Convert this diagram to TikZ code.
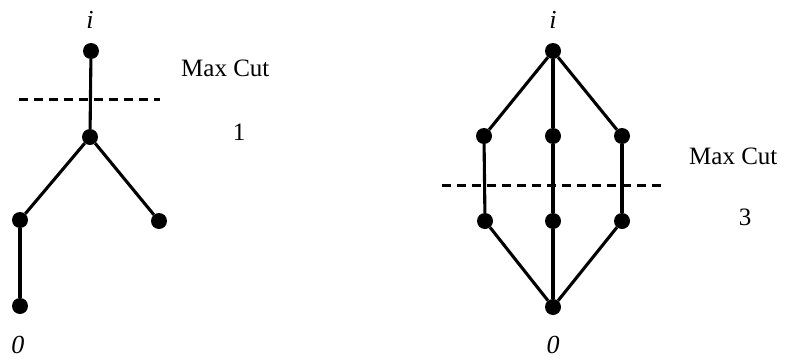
\documentclass[tikz,border=0pt]{standalone}
\usepackage{fontspec}
\setmainfont{Liberation Serif}
\begin{document}
\begin{tikzpicture}[x=1pt,y=-1pt,
  dot/.style={circle,fill=black,inner sep=0pt,minimum size=16pt},
  edge/.style={line width=3.1pt},
  cut/.style={line width=3pt,dash pattern=on 9pt off 6pt},
  lbl/.style={font=\fontsize{26}{29}\selectfont\itshape,inner sep=0pt},
  txt/.style={font=\fontsize{25}{29}\selectfont,inner sep=0pt}]
\useasboundingbox (0,0) rectangle (796,362);
% left graph
\node[dot] (a1) at (91,51) {};
\node[dot] (a2) at (90,137) {};
\node[dot] (a3) at (20,220) {};
\node[dot] (a4) at (159,221) {};
\node[dot] (a5) at (20,306) {};
\draw[edge] (a1) -- (a2);
\draw[edge] (a2) -- (a3);
\draw[edge] (a2) -- (a4);
\draw[edge] (a3) -- (a5);
\coordinate (c1) at (19,99);
\coordinate (c2) at (160,99);
\draw[cut] (c1) -- (c2);
\node[lbl] (li) at (90,20) {i};
\node[lbl] (lo) at (18,345) {0};
\node[txt,anchor=west] (lmc) at (181,68) {Max Cut};
\node[txt] (l1) at (239,132) {1};
% right graph
\node[dot] (b0) at (553,51) {};
\node[dot] (b1) at (484,136) {};
\node[dot] (b2) at (553,136) {};
\node[dot] (b3) at (622,136) {};
\node[dot] (b4) at (485,221) {};
\node[dot] (b5) at (553,221) {};
\node[dot] (b6) at (622,221) {};
\node[dot] (b7) at (553,307) {};
\draw[edge] (b0) -- (b1);
\draw[edge] (b0) -- (b2);
\draw[edge] (b0) -- (b3);
\draw[edge] (b1) -- (b4);
\draw[edge] (b2) -- (b5);
\draw[edge] (b3) -- (b6);
\draw[edge] (b4) -- (b7);
\draw[edge] (b5) -- (b7);
\draw[edge] (b6) -- (b7);
\coordinate (d1) at (442,185);
\coordinate (d2) at (663,185);
\draw[cut] (d1) -- (d2);
\node[lbl] (ri) at (553,20) {i};
\node[lbl] (ro) at (553,345) {0};
\node[txt,anchor=west] (rmc) at (689,156) {Max Cut};
\node[txt] (r3) at (745,217) {3};
\end{tikzpicture}
\end{document}
